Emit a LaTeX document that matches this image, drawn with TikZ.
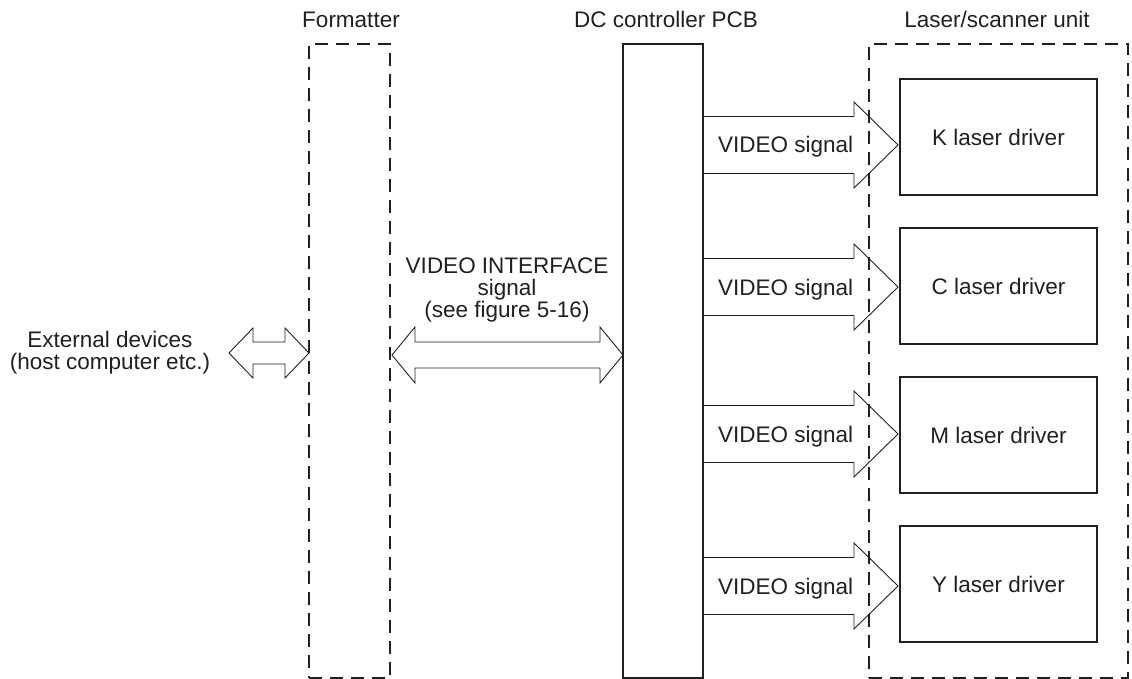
\documentclass[tikz,border=0pt]{standalone}
\usepackage{fontspec}
\setmainfont{Liberation Sans}
\usetikzlibrary{calc}
\definecolor{ink}{HTML}{231F20}
\newcommand\hollowarr[5]{% start, tip, shaft half, head half, head length
  \draw[hol] let \p1=(#1), \p2=(#2) in
    (\x1,{\y1+#3}) -- ({\x2-#5},{\y1+#3}) -- ({\x2-#5},{\y1+#4}) -- (\x2,\y1)
    -- ({\x2-#5},{\y1-#4}) -- ({\x2-#5},{\y1-#3}) -- (\x1,{\y1-#3});}
\newcommand\doublearr[5]{% left tip, right tip, shaft half, head half, head length
  \draw[hol] let \p1=(#1), \p2=(#2) in
    (\x1,\y1) -- ({\x1+#5},{\y1+#4}) -- ({\x1+#5},{\y1+#3}) -- ({\x2-#5},{\y1+#3})
    -- ({\x2-#5},{\y1+#4}) -- (\x2,\y1) -- ({\x2-#5},{\y1-#4}) -- ({\x2-#5},{\y1-#3})
    -- ({\x1+#5},{\y1-#3}) -- ({\x1+#5},{\y1-#4}) -- cycle;}
\begin{document}
\begin{tikzpicture}[x=1pt,y=-1pt,
  lbl/.style={font=\fontsize{22.5}{22}\selectfont, text=ink, inner sep=0pt, outer sep=0pt},
  dbox/.style={draw=ink, line width=2.6pt, dash pattern=on 13pt off 8pt, anchor=north west, inner sep=0pt, outer sep=0pt},
  sbox/.style={draw=ink, line width=2.6pt, anchor=north west, inner sep=0pt, outer sep=0pt},
  drv/.style={sbox, minimum width=197pt, minimum height=116pt, font=\fontsize{22.5}{22}\selectfont, text=ink},
  hol/.style={draw=ink, line width=0.9pt, line join=miter},
]
\useasboundingbox (0,0) rectangle (1132,679);

% containers
\node[dbox, minimum width=81pt, minimum height=634pt] (fmt) at (309,44) {};
\node[sbox, minimum width=80pt, minimum height=634pt] (pcb) at (623,44) {};
\node[dbox, minimum width=259pt, minimum height=634pt] (lsu) at (869,44) {};

% titles
\node[lbl, anchor=base] (tfmt) at (351,28) {Formatter};
\node[lbl, anchor=base] (tpcb) at (666,28) {DC controller PCB};
\node[lbl, anchor=base] (tlsu) at (997,28) {Laser/scanner unit};

% laser drivers
\node[drv] (k) at (900,79) {K laser driver};
\node[drv] (c) at (900,228) {C laser driver};
\node[drv] (m) at (900,377) {M laser driver};
\node[drv] (y) at (900,526) {Y laser driver};

% arrow tips
\coordinate (kt) at (898,145);
\coordinate (ct) at (898,287);
\coordinate (mt) at (898,434);
\coordinate (yt) at (898,586);

\hollowarr{pcb.east |- kt}{kt}{28.5pt}{43pt}{44pt}
\hollowarr{pcb.east |- ct}{ct}{28.5pt}{43pt}{44pt}
\hollowarr{pcb.east |- mt}{mt}{28.5pt}{43pt}{44pt}
\hollowarr{pcb.east |- yt}{yt}{28.5pt}{43pt}{44pt}

\node[lbl, anchor=base west] (vk) at (718,153) {VIDEO signal};
\node[lbl, anchor=base west] (vc) at (718,295) {VIDEO signal};
\node[lbl, anchor=base west] (vm) at (718,442) {VIDEO signal};
\node[lbl, anchor=base west] (vy) at (718,594) {VIDEO signal};

% video interface
\coordinate (ifl) at (392,355);
\doublearr{ifl}{pcb.west |- ifl}{13pt}{28pt}{23pt}
\node[lbl, align=center, anchor=north] (vif) at (507,258) {VIDEO INTERFACE\\signal\\(see figure 5-16)};

% external devices
\coordinate (exl) at (229,353);
\doublearr{exl}{fmt.west |- exl}{11pt}{25pt}{24pt}
\node[lbl, align=center, anchor=north] (ext) at (110,331) {External devices\\(host computer etc.)};
\end{tikzpicture}
\end{document}
